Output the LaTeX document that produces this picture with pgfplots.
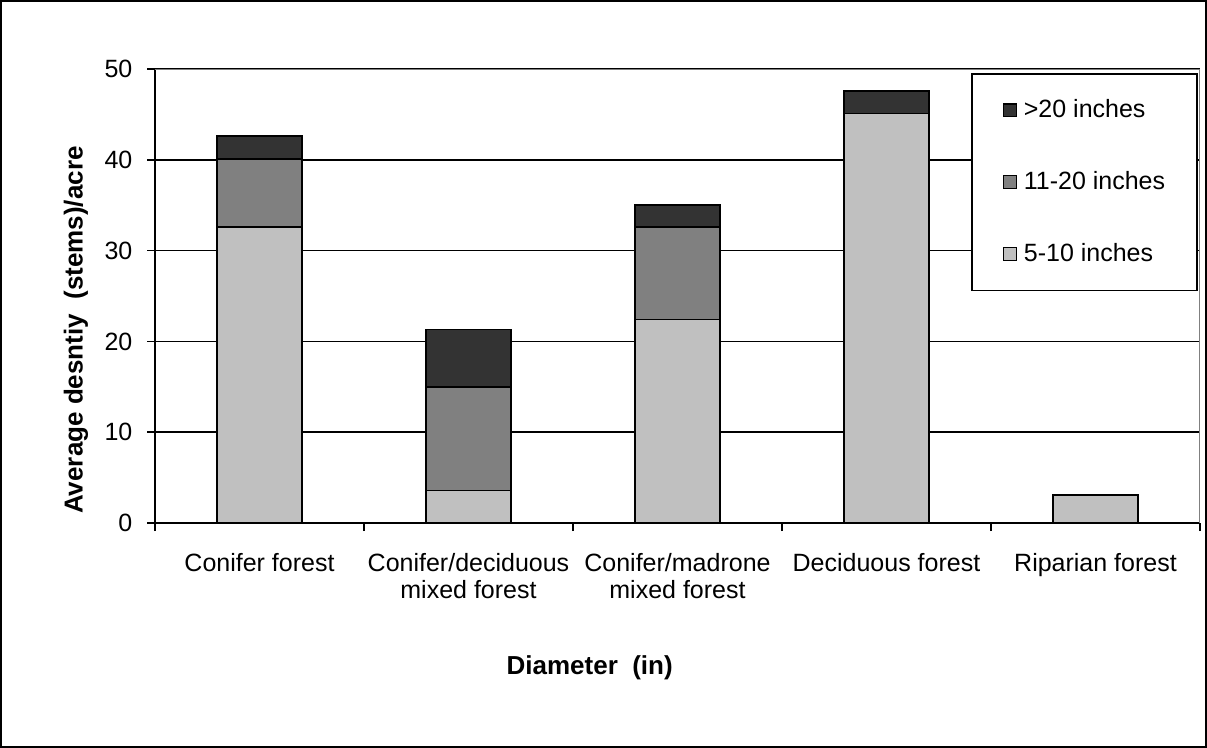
\documentclass[border=0pt]{standalone}
\usepackage{pgfplots}
\pgfplotsset{compat=1.18}
\usepackage{pgfplotstable}
\usepackage{fontspec}
\setmainfont{Liberation Sans}

\definecolor{lightbar}{HTML}{C0C0C0}
\definecolor{midbar}{HTML}{808080}
\definecolor{darkbar}{HTML}{333333}

% stems/acre by forest type and diameter class
\pgfplotstableread{
x    small  mid   large
0.5  32.6   7.5   2.5
1.5  3.6    11.4  6.3
2.5  22.4   10.2  2.4
3.5  45.1   0     2.5
4.5  3.1    0     0
}\density

\begin{document}
\begin{tikzpicture}
\useasboundingbox (-77.5bp,-112.5bp) rectangle (526bp,261.5bp);
\draw[line width=0.9bp] (-77bp,-112bp) rectangle (525.5bp,261bp);
\begin{axis}[
  scale only axis,
  width=522.5bp, height=227bp,
  ybar stacked, bar width=42.5bp,
  xmin=0, xmax=5, ymin=0, ymax=50,
  axis x line*=bottom, axis y line*=left,
  axis line style={line width=0.8bp},
  xtick={0.5,1.5,2.5,3.5,4.5},
  xticklabels={{Conifer forest},{Conifer/deciduous\\mixed forest},{Conifer/madrone\\mixed forest},{Deciduous forest},{Riparian forest}},
  minor xtick={0,1,2,3,4,5},
  major x tick style={draw=none},
  minor x tick style={line width=0.8bp, black},
  ytick={0,10,20,30,40,50},
  y tick style={line width=0.8bp, black},
  tick align=outside,
  major tick length=3.8bp, minor tick length=4bp,
  ymajorgrids, grid style={black, line width=0.85bp},
  font=\fontsize{12.5bp}{13.5bp}\selectfont,
  /pgf/number format/assume math mode=true,
  xticklabel style={align=center, yshift=-8bp},
  yticklabel style={xshift=-4bp},
  xlabel={\textbf{Diameter\ \ (in)}},
  ylabel={\textbf{Average desntiy\ \ (stems)/acre}},
  label style={font=\fontsize{13bp}{15bp}\selectfont},
  xlabel style={at={(axis description cs:0.416,-0.319)}, anchor=center},
  ylabel style={at={(axis description cs:-0.0756,0.425)}, anchor=center},
  reverse legend,
  legend cell align=left,
  legend style={at={(axis description cs:0.998,0.991)}, anchor=north east,
    draw=black, line width=0.75bp, inner xsep=14bp, inner ysep=11bp,
    row sep=21.3bp, font=\fontsize{12.5bp}{13.5bp}\selectfont},
  legend image code/.code={\path[draw=none, fill=none] (0bp,0bp) -- (10bp,0bp);
    \draw[#1, line width=0.6bp] (2bp,-3.2bp) rectangle (8.4bp,3.2bp);},
  every axis plot/.append style={draw=black, line width=0.75bp},
]
\addplot[fill=lightbar] table[x=x, y=small] {\density};
\addplot[fill=midbar] table[x=x, y=mid] {\density};
\addplot[fill=darkbar] table[x=x, y=large] {\density};
\legend{5-10 inches, 11-20 inches, >20 inches}
% grey plot-area border on top and right
\draw[gray, line width=0.9bp] (axis description cs:0,1) -- (axis description cs:1,1) -- (axis description cs:1,0);
\end{axis}
\end{tikzpicture}
\end{document}
